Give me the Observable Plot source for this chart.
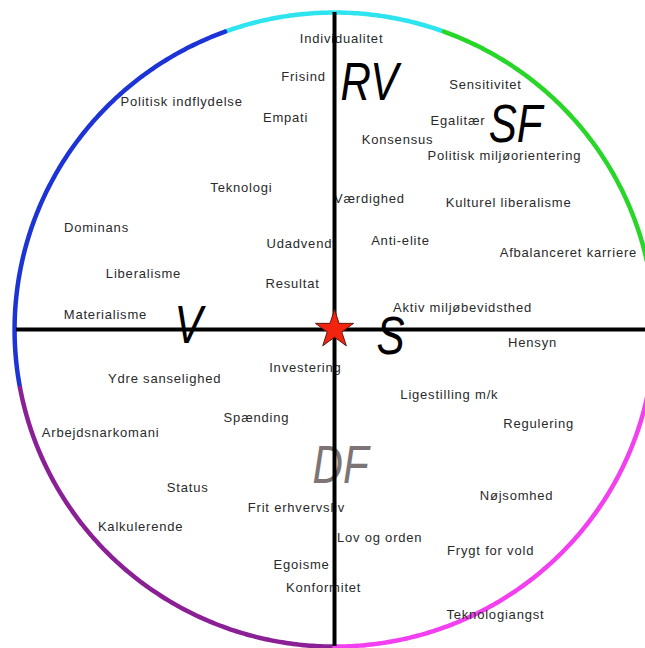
<!DOCTYPE html>
<html><head><meta charset="utf-8">
<script src="https://cdn.jsdelivr.net/npm/d3@7"></script>
<script src="https://cdn.jsdelivr.net/npm/@observablehq/plot@0.6"></script>
<style>
html,body{margin:0;padding:0;background:#fff;overflow:hidden}
svg{overflow:hidden;display:block}
</style>
</head><body><div id="chart"></div>
<script>
// Værdier (labels) placed on the two-dimensional value map (-100..100 on each axis)
const values = ["Individualitet","Frisind","Politisk indflydelse","Empati","Sensitivitet","Egalitær","Konsensus","Politisk miljøorientering","Teknologi","Værdighed","Kulturel liberalisme","Dominans","Udadvendt","Anti-elite","Afbalanceret karriere","Liberalisme","Resultat","Aktiv miljøbevidsthed","Materialisme","Hensyn","Investering","Ydre sanselighed","Ligestilling m/k","Spænding","Regulering","Arbejdsnarkomani","Status","Nøjsomhed","Frit erhvervsliv","Kalkulerende","Lov og orden","Frygt for vold","Egoisme","Konformitet","Teknologiangst"];
const valueX = [2.2,-9.7,-47.8,-15.3,47.2,38.6,19.7,53.1,-29.1,10.9,54.4,-74.4,-10.3,20.6,73.1,-59.7,-13.1,40.0,-71.6,61.9,-9.1,-53.1,35.9,-24.4,63.8,-73.1,-45.9,56.9,-11.9,-60.6,14.1,48.8,-10.3,-3.4,50.3];
const valueY = [91.8,79.8,71.9,66.9,77.3,65.9,59.9,54.9,44.8,41.3,40.1,32.2,27.1,28.1,24.3,17.7,14.5,6.9,4.7,-4.1,-12.0,-15.5,-20.5,-27.8,-29.7,-32.5,-49.8,-52.4,-56.2,-62.1,-65.6,-69.7,-74.1,-81.4,-89.9];

// Parties
const parties = ["RV","SF","V","S","DF"];
const partyX = [10.9,56.6,-45.6,17.5,1.9];
const partyY = [77.9,64.7,1.3,-2.2,-42.9];
const partyColor = ["#000","#000","#000","#000","#7d7575"];

// Coloured rim segments (angles in degrees, counter-clockwise from the right)
const rimFrom = [70.4, 110, 190.6, 270, -10];
const rimTo = [110, 190.6, 270, 350, 70.4];
const rimColor = ["#2ee4ee","#1c34d6","#8a1f96","#f23ff0","#28d628"];

const labelData = values.map((t, i) => ({t, x: valueX[i], y: valueY[i]}));
const partyData = parties.map((t, i) => ({t, x: partyX[i], y: partyY[i], c: partyColor[i]}));
const rimMarks = rimFrom.map((a0, i) => {
  const pts = d3.range(a0, rimTo[i] + 0.001, 0.5).map(a => ({
    x: 100 * Math.cos(a * Math.PI / 180),
    y: 100 * Math.sin(a * Math.PI / 180)
  }));
  return Plot.line(pts, {x: "x", y: "y", stroke: rimColor[i], strokeWidth: 4.5, curve: "linear"});
});

const chart = Plot.plot({
  width: 645,
  height: 648,
  margin: 0,
  x: {domain: [-104.4, 97.2], axis: null},
  y: {domain: [-100.6, 103.8], axis: null},
  style: {background: "#fff"},
  marks: [
    ...rimMarks,
    Plot.text(labelData, {x: "x", y: "y", text: "t", fontSize: 13, fill: "#2a2a2a", fontFamily: "'Liberation Sans', Arial, sans-serif"}),
    Plot.text(partyData, {x: "x", y: "y", text: "t", fill: "c", fontSize: 54, fontStyle: "italic", fontFamily: "'Liberation Sans', sans-serif"}),
    Plot.ruleY([{y: 0, x1: -99.4, x2: 97.2}], {y: "y", x1: "x1", x2: "x2", stroke: "#000", strokeWidth: 4}),
    Plot.ruleX([{x: 0, y1: -100, y2: 100}], {x: "x", y1: "y1", y2: "y2", stroke: "#000", strokeWidth: 4}),
    Plot.dot([{x: 0, y: 0}], {x: "x", y: "y", symbol: "star", r: 12, fill: "#f2230f", stroke: "#5a1a10", strokeWidth: 1})
  ]
});
const textGroups = chart.querySelectorAll("g[aria-label='text']");
textGroups[0]?.setAttribute("letter-spacing", "0.8");
// narrow the italic party letters horizontally
textGroups[1]?.querySelectorAll("text").forEach(t => {
  const tr = t.getAttribute("transform");
  if (tr) {
    t.setAttribute("transform", tr + " scale(0.78,1)");
  } else {
    const x = +t.getAttribute("x") || 0, y = +t.getAttribute("y") || 0;
    t.removeAttribute("x"); t.removeAttribute("y");
    t.setAttribute("transform", `translate(${x},${y}) scale(0.78,1)`);
  }
});
document.getElementById("chart").appendChild(chart);
</script>
</body></html>
